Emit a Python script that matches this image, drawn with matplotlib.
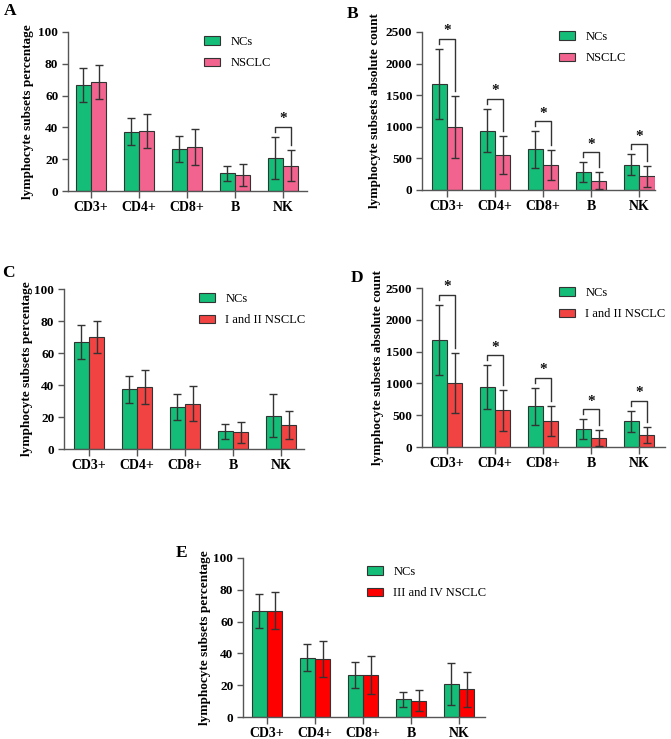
import matplotlib
matplotlib.use("Agg")
import matplotlib.pyplot as plt

plt.rcParams["font.family"] = ["Liberation Serif", "DejaVu Serif"]

cells = ["CD3+", "CD4+", "CD8+", "B", "NK"]

# percentages (mean, sd)
nc_pct = [66.7, 37.3, 26.4, 11.1, 20.8]
nc_pct_sd = [10.7, 8.5, 8.2, 4.6, 13.3]
nsclc_pct = [68.6, 37.7, 27.4, 10.1, 15.9]
nsclc_pct_sd = [10.8, 10.6, 11.3, 6.7, 9.9]
early_pct = [70.0, 38.8, 28.4, 10.4, 15.0]
early_pct_sd = [9.8, 10.5, 11.0, 6.7, 8.5]
late_pct = [66.9, 36.6, 26.4, 10.3, 17.4]
late_pct_sd = [11.5, 11.2, 11.8, 6.8, 11.2]

# absolute counts (mean, sd)
nc_cnt = [1682, 939, 643, 280, 401]
nc_cnt_sd = [555, 343, 290, 156, 168]
nsclc_cnt = [997, 554, 401, 148, 216]
nsclc_cnt_sd = [490, 300, 238, 132, 164]
early_cnt = [1003, 578, 415, 147, 189]
early_cnt_sd = [470, 320, 236, 126, 125]

sig_a = [False, False, False, False, True]
sig_b = [True, True, True, True, True]
sig_none = [False] * 5

GREEN = "#14BE78"
PINK = "#F2648F"
RED_LIGHT = "#F24343"
RED = "#FF0000"
DARK = "#333333"
AXC = "#555555"

W, H = 671, 739
fig = plt.figure(figsize=(W / 100, H / 100), dpi=100)


def panel(box, xlim, letter, letter_pos, ylab, ylab_off, ymax, ystep,
          m1, s1, m2, s2, col2, lab2, sig, leg_pos):
    left, top, right, bottom = box
    ax = fig.add_axes([left / W, 1 - bottom / H, (right - left) / W, (bottom - top) / H])
    px = ymax / (bottom - top)  # data units per pixel
    x = list(range(len(cells)))
    bw = 0.32
    xa = [i - bw / 2 for i in x]
    xb = [i + bw / 2 for i in x]
    ax.bar(xa, m1, bw, color=GREEN, edgecolor=DARK, linewidth=0.8, label="NCs", zorder=2)
    ax.bar(xb, m2, bw, color=col2, edgecolor=DARK, linewidth=0.8, label=lab2, zorder=2)
    ax.errorbar(xa, m1, yerr=s1, fmt="none", ecolor=DARK, elinewidth=1, capsize=3.2,
                capthick=1, zorder=3)
    ax.errorbar(xb, m2, yerr=s2, fmt="none", ecolor=DARK, elinewidth=1, capsize=3.2,
                capthick=1, zorder=3)

    for i in x:
        if not sig[i]:
            continue
        ta = m1[i] + s1[i]
        tb = m2[i] + s2[i]
        y = max(ta, tb) + 10 * px
        ax.plot([xa[i], xa[i], xb[i], xb[i]], [ta + 5 * px, y, y, tb + 5 * px],
                color=DARK, lw=1, zorder=3, clip_on=False)
        ax.text(i, y + 8 * px, "*", ha="center", va="center", fontsize=11,
                fontweight="bold", color="#111111")

    ax.set_xlim(*xlim)
    ax.set_ylim(0, ymax)
    ax.set_yticks(range(0, ymax + 1, ystep))
    ax.set_xticks(x)
    ax.set_xticklabels(cells)
    for s in ["top", "right"]:
        ax.spines[s].set_visible(False)
    for s in ["left", "bottom"]:
        ax.spines[s].set_color(AXC)
        ax.spines[s].set_linewidth(1)
    ax.tick_params(axis="y", direction="out", length=4, width=1, color=AXC,
                   labelsize=9.5, pad=3)
    ax.tick_params(axis="x", direction="out", length=5, width=1, color=AXC,
                   labelsize=10, pad=2.5)
    for lbl in ax.get_xticklabels() + ax.get_yticklabels():
        lbl.set_fontweight("bold")
    ax.set_ylabel(ylab, fontsize=9.5, fontweight="bold", va="center")
    ax.yaxis.set_label_coords(-ylab_off / (right - left), 0.5)

    ax.legend(loc="upper left",
              bbox_to_anchor=(leg_pos[0] / W, 1 - leg_pos[1] / H),
              bbox_transform=fig.transFigure, frameon=False, fontsize=9,
              handlelength=1.3, handleheight=0.65, handletextpad=0.8,
              labelspacing=0.75, borderpad=0, borderaxespad=0)

    fig.text(letter_pos[0] / W, 1 - letter_pos[1] / H, letter, fontsize=12.5,
             fontweight="bold", va="top", ha="left")
    return ax


panel((68, 32, 307, 191), (-0.48, 4.5), "A", (4, 3),
      "lymphocyte subsets percentage", 40, 100, 20,
      nc_pct, nc_pct_sd, nsclc_pct, nsclc_pct_sd, PINK, "NSCLC", sig_a, (204, 36))

panel((422, 32, 655, 190), (-0.52, 4.33), "B", (347, 6),
      "lymphocyte subsets absolute count", 47, 2500, 500,
      nc_cnt, nc_cnt_sd, nsclc_cnt, nsclc_cnt_sd, PINK, "NSCLC", sig_b, (559, 31))

panel((64, 289, 304, 449), (-0.52, 4.48), "C", (2, 265),
      "lymphocyte subsets percentage", 37, 100, 20,
      nc_pct, nc_pct_sd, early_pct, early_pct_sd, RED_LIGHT, "I and II NSCLC",
      sig_none, (199, 293))

panel((422, 288, 665, 447), (-0.52, 4.54), "D", (351, 270),
      "lymphocyte subsets absolute count", 44, 2500, 500,
      nc_cnt, nc_cnt_sd, early_cnt, early_cnt_sd, RED_LIGHT, "I and II NSCLC",
      sig_b, (559, 287))

panel((243, 558, 485, 717), (-0.5, 4.54), "E", (176, 545),
      "lymphocyte subsets percentage", 38, 100, 20,
      nc_pct, nc_pct_sd, late_pct, late_pct_sd, RED, "III and IV NSCLC",
      sig_none, (367, 566))

fig.savefig("out.png", dpi=100)
